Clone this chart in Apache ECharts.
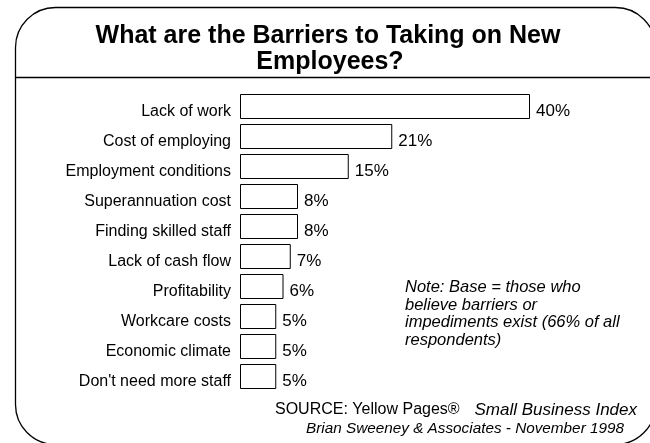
<!DOCTYPE html>
<html>
<head>
<meta charset="utf-8">
<script src="https://cdn.jsdelivr.net/npm/echarts@6/dist/echarts.min.js"></script>
<style>
  html, body { margin: 0; padding: 0; background: #fff; }
  #chart { width: 650px; height: 443px; }
</style>
</head>
<body>
<div id="chart"></div>
<script>
// Barriers to taking on new employees (percent of respondents)
const categories = [
  'Lack of work',
  'Cost of employing',
  'Employment conditions',
  'Superannuation cost',
  'Finding skilled staff',
  'Lack of cash flow',
  'Profitability',
  'Workcare costs',
  'Economic climate',
  "Don't need more staff"
];
const values = [40, 21, 15, 8, 8, 7, 6, 5, 5, 5];

const titleLines = ['What are the Barriers to Taking on New', 'Employees?'];
const noteLines = [
  'Note: Base = those who',
  'believe barriers or',
  'impediments exist (66% of all',
  'respondents)'
];
const sourceLabel = 'SOURCE: Yellow Pages®';
const sourceTitle = 'Small Business Index';
const creditLine = 'Brian Sweeney & Associates - November 1998';

const FONT = '"Liberation Sans", Arial, Helvetica, sans-serif';

const chart = echarts.init(document.getElementById('chart'), null, { renderer: 'canvas' });

chart.setOption({
  backgroundColor: '#ffffff',
  animation: false,
  grid: { left: 240, right: 120, top: 91.5, height: 300, containLabel: false },
  xAxis: {
    type: 'value',
    min: 0,
    max: 40,
    show: false
  },
  yAxis: {
    type: 'category',
    data: categories,
    inverse: true,
    axisLine: { show: false },
    axisTick: { show: false },
    axisLabel: {
      margin: 9,
      color: '#000',
      fontFamily: FONT,
      fontSize: 16,
      // labels sit a little below the bar centre
      verticalAlign: 'top',
      lineHeight: 10
    }
  },
  series: [{
    type: 'bar',
    data: values,
    barWidth: 25,
    itemStyle: { color: '#ffffff', borderColor: '#000', borderWidth: 1 },
    label: {
      show: true,
      position: 'right',
      distance: 6,
      offset: [0, 5],
      formatter: '{c}%',
      color: '#000',
      fontFamily: FONT,
      fontSize: 17
    }
  }],
  graphic: [
    // outer frame with rounded corners
    {
      type: 'rect',
      shape: { x: 15.5, y: 7.5, width: 640, height: 437, r: 40 },
      style: { fill: 'none', stroke: '#000', lineWidth: 1.3 },
      silent: true
    },
    // rule under the heading
    {
      type: 'line',
      shape: { x1: 15.5, y1: 77.5, x2: 650, y2: 77.5 },
      style: { stroke: '#000', lineWidth: 1.3 },
      silent: true
    },
    {
      type: 'text',
      x: 328, y: 36,
      style: {
        text: titleLines[0], fill: '#000', font: 'bold 25px ' + FONT,
        align: 'center', verticalAlign: 'middle'
      }
    },
    {
      type: 'text',
      x: 330, y: 62,
      style: {
        text: titleLines[1], fill: '#000', font: 'bold 25px ' + FONT,
        align: 'center', verticalAlign: 'middle'
      }
    },
    {
      type: 'text',
      x: 405, y: 279,
      style: {
        text: noteLines.join('\n'), fill: '#000', font: 'italic 16.5px ' + FONT,
        lineHeight: 17.5, align: 'left', verticalAlign: 'top'
      }
    },
    {
      type: 'text',
      x: 275, y: 410,
      style: {
        text: sourceLabel, fill: '#000', font: '16px ' + FONT,
        align: 'left', verticalAlign: 'middle'
      }
    },
    {
      type: 'text',
      x: 637, y: 410,
      style: {
        text: sourceTitle, fill: '#000', font: 'italic 17px ' + FONT,
        align: 'right', verticalAlign: 'middle'
      }
    },
    {
      type: 'text',
      x: 624, y: 429,
      style: {
        text: creditLine, fill: '#000', font: 'italic 15.3px ' + FONT,
        align: 'right', verticalAlign: 'middle'
      }
    }
  ]
});
</script>
</body>
</html>
